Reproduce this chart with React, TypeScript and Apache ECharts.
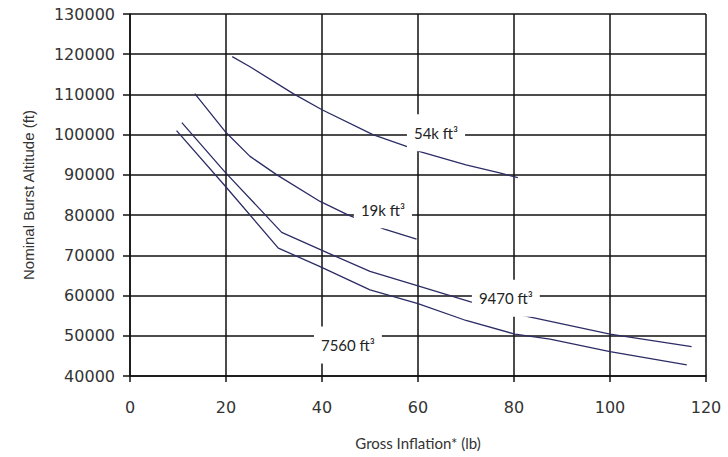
import React, { useEffect, useRef } from "react";
import * as echarts from "echarts";

// Gross inflation (lb) and nominal burst altitude (ft) for each balloon size
const x54k = [21.3, 25, 34, 40, 50.6, 57.3, 60.4, 70, 77, 80.8];
const y54k = [119400, 116900, 110200, 106200, 100000, 97200, 95800, 92500, 90500, 89300];

const x19k = [13.5, 19.8, 25, 30.6, 39.6, 45.5, 53, 59.7];
const y19k = [110200, 100800, 94600, 90000, 83400, 80000, 76500, 74000];

const x9470 = [10.8, 19.8, 31.6, 41.3, 50, 60, 70.8, 81.25, 100, 117];
const y9470 = [103000, 90700, 75700, 70550, 66000, 62400, 58500, 55200, 50400, 47300];

const x7560 = [9.7, 20, 30.9, 39.6, 50, 60, 70, 80.2, 87.5, 100, 116];
const y7560 = [101000, 87000, 71800, 67200, 61400, 58000, 53800, 50400, 49150, 46070, 42760];

const seriesNames = ["54k ft³", "19k ft³", "9470 ft³", "7560 ft³"];
const seriesX = [x54k, x19k, x9470, x7560];
const seriesY = [y54k, y19k, y9470, y7560];

// label anchors (data units) for the curve annotations
const labelX = [63.75, 52.7, 78.3, 45.4];
const labelY = [100470, 81320, 59350, 47735];

const xTicks = [0, 20, 40, 60, 80, 100, 120];
const yTicks = [40000, 50000, 60000, 70000, 80000, 90000, 100000, 110000, 120000, 130000];

const LINE_COLOR = "#2c2c66";
const GRID_COLOR = "#111111";

export default function App() {
  const ref = useRef<HTMLDivElement>(null);
  useEffect(() => {
    if (!ref.current) return;
    const chart = echarts.init(ref.current, undefined, { renderer: "svg" });
    const lineSeries = seriesNames.map((name, i) => ({
      type: "line",
      name,
      data: seriesX[i].map((x, j) => [x, seriesY[i][j]]),
      showSymbol: false,
      symbol: "none",
      lineStyle: { color: LINE_COLOR, width: 1.3 },
      z: 3,
    }));
    chart.setOption({
      animation: false,
      backgroundColor: "#ffffff",
      grid: { left: 130, right: 22, top: 14, bottom: 81 },
      xAxis: {
        type: "value",
        min: xTicks[0],
        max: xTicks[xTicks.length - 1],
        interval: 20,
        name: "Gross Inflation* (lb)",
        nameLocation: "middle",
        nameGap: 59,
        nameTextStyle: { fontFamily: "Lato", fontSize: 15, color: "#333" },
        axisLine: { show: true, lineStyle: { color: GRID_COLOR, width: 1.5 } },
        axisTick: { show: true, length: 6, lineStyle: { color: GRID_COLOR, width: 1.5 } },
        axisLabel: { margin: 23, fontFamily: "DejaVu Sans", fontSize: 16, color: "#333" },
        splitLine: { show: true, lineStyle: { color: GRID_COLOR, width: 1.5 } },
      },
      yAxis: {
        type: "value",
        min: yTicks[0],
        max: yTicks[yTicks.length - 1],
        interval: 10000,
        name: "Nominal Burst Altitude (ft)",
        nameLocation: "middle",
        nameGap: 94,
        nameTextStyle: { fontFamily: "Liberation Sans", fontSize: 15, color: "#333" },
        axisLine: { show: true, lineStyle: { color: GRID_COLOR, width: 1.5 } },
        axisTick: { show: true, length: 7, lineStyle: { color: GRID_COLOR, width: 1.5 } },
        axisLabel: {
          margin: 15,
          fontFamily: "DejaVu Sans",
          fontSize: 16,
          color: "#333",
          formatter: (v: number) => String(v),
        },
        splitLine: { show: true, lineStyle: { color: GRID_COLOR, width: 1.5 } },
      },
      series: lineSeries,
    });
    const texts = seriesNames.map((name, i) => {
      const p = chart.convertToPixel({ gridIndex: 0 }, [labelX[i], labelY[i]]) as number[];
      return {
        type: "text",
        x: p[0],
        y: p[1],
        z: 100,
        silent: true,
        style: {
          text: name,
          align: "center",
          verticalAlign: "middle",
          fontFamily: "Lato",
          fontSize: 15,
          fill: "#222",
          backgroundColor: "#ffffff",
          padding: [11, 7],
        },
      };
    });
    chart.setOption({ graphic: texts });
    return () => chart.dispose();
  }, []);
  return <div ref={ref} style={{ width: 728, height: 457, position: "absolute", left: 0, top: 0 }} />;
}
